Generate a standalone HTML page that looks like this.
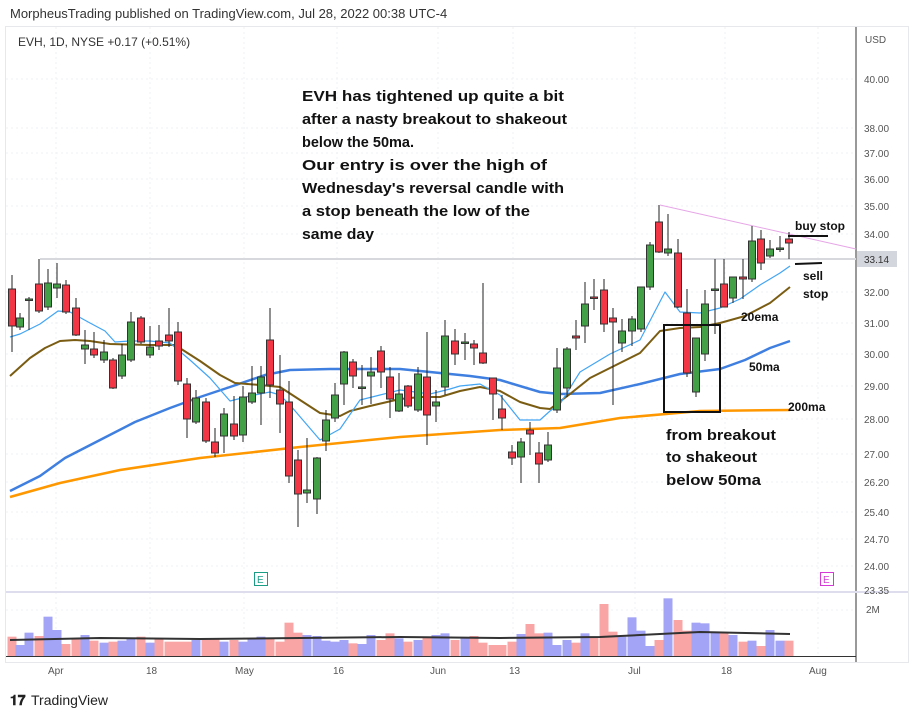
<!DOCTYPE html>
<html><head><meta charset="utf-8"><style>
html,body{margin:0;padding:0;background:#fff;width:919px;height:717px;overflow:hidden}
svg{display:block}
text{font-family:"Liberation Sans",sans-serif}
</style></head><body>
<svg id="s" width="919" height="717" xmlns="http://www.w3.org/2000/svg">
<rect x="0" y="0" width="919" height="717" fill="#fff"/>
<text x="10" y="18" font-size="13" fill="#333">MorpheusTrading published on TradingView.com, Jul 28, 2022 00:38 UTC-4</text>
<rect x="5.5" y="26.5" width="903" height="636" fill="none" stroke="#e6e8ec"/>
<g id="grid" stroke="#eef0f3" stroke-dasharray="2,3"></g>
<line x1="856" y1="27" x2="856" y2="662" stroke="#333"/>
<line x1="6" y1="592" x2="908" y2="592" stroke="#dde" stroke-width="2"/>
<line x1="6" y1="656.5" x2="856" y2="656.5" stroke="#333"/>
<text x="18" y="46" font-size="12" fill="#333">EVH, 1D, NYSE  <tspan fill="#333">+0.17 (+0.51%)</tspan></text>
<g id="vol"></g>
<line x1="40" y1="259" x2="856" y2="259" stroke="#d6d8de" stroke-width="2"/>
<line x1="660" y1="205" x2="856" y2="249" stroke="#e6a6e6" stroke-width="1"/>
<g id="ma" fill="none"></g>
<g id="cand"></g>
<rect x="664" y="325" width="56" height="87" fill="none" stroke="#111" stroke-width="2"/>
<line x1="788" y1="236" x2="828" y2="236" stroke="#111" stroke-width="2"/>
<line x1="795" y1="264" x2="822" y2="263" stroke="#111" stroke-width="2"/>
<g font-size="15" font-weight="bold" fill="#111">
<text x="302" y="101" textLength="262" lengthAdjust="spacingAndGlyphs">EVH has tightened up quite a bit</text>
<text x="302" y="124" textLength="265" lengthAdjust="spacingAndGlyphs">after a nasty breakout to shakeout</text>
<text x="302" y="147" textLength="112" lengthAdjust="spacingAndGlyphs">below the 50ma.</text>
<text x="302" y="170" textLength="245" lengthAdjust="spacingAndGlyphs">Our entry is over the high of</text>
<text x="302" y="193" textLength="262" lengthAdjust="spacingAndGlyphs">Wednesday's reversal candle with</text>
<text x="302" y="216" textLength="228" lengthAdjust="spacingAndGlyphs">a stop beneath the low of the</text>
<text x="302" y="239" textLength="72" lengthAdjust="spacingAndGlyphs">same day</text>
<text x="666" y="440" textLength="110" lengthAdjust="spacingAndGlyphs">from breakout</text>
<text x="666" y="462" textLength="91" lengthAdjust="spacingAndGlyphs">to shakeout</text>
<text x="666" y="485" textLength="95" lengthAdjust="spacingAndGlyphs">below 50ma</text>
</g>
<g font-size="12" font-weight="bold" fill="#111">
<text x="795" y="230">buy stop</text>
<text x="803" y="280">sell</text>
<text x="803" y="298">stop</text>
<text x="741" y="321">20ema</text>
<text x="749" y="371">50ma</text>
<text x="788" y="411">200ma</text>
</g>
<g font-size="10" fill="#555">
<text x="865" y="43">USD</text>
<text x="864" y="83">40.00</text><text x="864" y="132">38.00</text><text x="864" y="157">37.00</text>
<text x="864" y="183">36.00</text><text x="864" y="210">35.00</text><text x="864" y="238">34.00</text>
<text x="864" y="296">32.00</text><text x="864" y="327">31.00</text><text x="864" y="358">30.00</text>
<text x="864" y="390">29.00</text><text x="864" y="423">28.00</text><text x="864" y="458">27.00</text>
<text x="864" y="486">26.20</text><text x="864" y="516">25.40</text><text x="864" y="543">24.70</text>
<text x="864" y="570">24.00</text><text x="864" y="594">23.35</text>
<text x="866" y="613">2M</text>
<text x="48" y="674">Apr</text><text x="146" y="674">18</text><text x="235" y="674">May</text>
<text x="333" y="674">16</text><text x="430" y="674">Jun</text><text x="509" y="674">13</text>
<text x="628" y="674">Jul</text><text x="721" y="674">18</text><text x="809" y="674">Aug</text>
</g>
<rect x="857" y="251" width="40" height="16" fill="#d4d6dd"/>
<text x="864" y="263" font-size="10" fill="#333">33.14</text>
<rect x="254.5" y="572.5" width="13" height="13" fill="none" stroke="#1b9c85"/><text x="257" y="583" font-size="10" fill="#1b9c85">E</text>
<rect x="820.5" y="572.5" width="13" height="13" fill="none" stroke="#d63ad6"/><text x="823" y="583" font-size="10" fill="#d63ad6">E</text>
<text x="10" y="705" font-size="14" font-weight="bold" fill="#222">𝟏𝟕</text>
<text x="31" y="705" font-size="14" fill="#222">TradingView</text>
</svg>
<script>
var NS="http://www.w3.org/2000/svg";
function el(p,t,a){var e=document.createElementNS(NS,t);for(var k in a)e.setAttribute(k,a[k]);document.getElementById(p).appendChild(e);return e;}
[79,128,153,179,206,234,292,323,354,386,419,454,482,512,539,566].forEach(function(y){el("grid","line",{x1:6,x2:856,y1:y,y2:y});});
[56,150,244,337,438,513,635,725,818].forEach(function(x){el("grid","line",{x1:x,x2:x,y1:27,y2:656});});
el("grid","line",{x1:6,x2:856,y1:610,y2:610});
var C=[[12,289,326,275,352,0],[20,318,327,313,330,1],[29,299,300,297,330,1],[39,284,311,259,313,0],[48,283,307,269,310,1],[57,284,288,263,298,1],[66,285,312,280,314,0],[76,308,335,298,336,0],[85,345,349,330,364,1],[94,349,355,332,358,0],[104,352,360,340,363,1],[113,360,388,358,389,0],[122,355,376,344,379,1],[131,322,360,312,362,1],[141,318,342,316,344,0],[150,347,355,326,358,1],[159,341,346,325,350,0],[169,335,341,308,347,0],[178,332,381,322,385,0],[187,384,419,378,438,0],[196,398,422,390,424,1],[206,402,441,398,443,0],[215,442,453,428,457,0],[224,414,436,408,453,1],[234,424,436,396,440,0],[243,397,435,386,442,1],[252,393,402,366,404,1],[261,377,393,366,425,1],[270,340,385,308,398,0],[280,390,404,355,433,0],[289,402,476,381,483,0],[298,460,494,450,527,0],[307,490,493,438,503,1],[317,458,499,457,514,1],[326,420,441,410,451,1],[335,395,418,383,422,1],[344,352,384,351,405,1],[353,362,376,359,388,0],[362,387,388,365,405,1],[371,372,376,357,404,1],[381,351,372,346,388,0],[390,377,399,367,418,0],[399,394,411,373,412,1],[408,386,406,385,408,0],[418,374,410,367,412,1],[427,377,415,332,445,0],[436,402,406,390,422,1],[445,336,387,320,395,1],[455,341,354,329,365,0],[465,342,343,333,360,1],[474,344,348,340,365,0],[483,353,363,283,364,0],[493,378,394,378,420,0],[502,409,418,395,430,0],[512,452,458,445,465,0],[521,442,457,438,483,1],[530,430,434,422,455,0],[539,453,464,442,483,0],[548,445,460,432,462,1],[557,368,410,348,413,1],[567,349,388,347,397,1],[576,336,338,320,350,0],[585,304,326,282,343,1],[594,297,298,279,310,0],[604,290,324,279,332,0],[613,318,322,308,405,0],[622,331,343,319,352,1],[632,319,331,316,346,1],[641,287,329,287,332,1],[650,245,287,242,290,1],[659,222,252,205,253,0],[668,249,253,214,256,1],[678,253,307,239,308,0],[687,313,373,289,377,0],[696,338,392,338,397,1],[705,304,354,290,361,1],[715,289,290,259,334,1],[724,284,307,259,307,0],[733,277,298,277,303,1],[743,277,279,259,299,0],[752,241,279,226,282,1],[761,239,263,230,270,0],[770,249,256,240,258,1],[780,248,249,236,252,1],[789,239,243,232,259,0]];
C.forEach(function(c){var col=c[5]?"#43a047":"#f23645";
el("cand","line",{x1:c[0],x2:c[0],y1:c[3],y2:c[4],stroke:"#222","stroke-width":1});
el("cand","rect",{x:c[0]-3.5,y:c[1],width:7,height:Math.max(1.5,c[2]-c[1]),fill:col,stroke:"#333","stroke-width":1});});
var VT=[140,165,128,138,80,120,162,145,135,152,158,155,152,145,140,158,145,155,155,155,150,148,145,155,150,155,145,140,145,155,98,128,135,138,152,155,150,160,162,135,150,130,145,155,150,140,135,130,150,145,138,158,165,165,155,132,102,130,128,165,150,158,130,140,42,125,140,82,122,168,150,25,90,122,98,100,125,130,135,155,152,168,120,152,152,152];
C.forEach(function(c,i){var t=590+VT[Math.min(i,VT.length-1)]/3;
el("vol","rect",{x:c[0]-4.5,y:t,width:9,height:656-t,fill:c[5]?"#a3a4f6":"#f9a5a5"});});
function pl(pts,col,w){el("ma","polyline",{points:pts.map(function(p){return p.join(",")}).join(" "),stroke:col,"stroke-width":w,"stroke-linejoin":"round"});}
pl([[10,640],[100,638],[200,639],[300,638],[400,637],[500,638],[600,637],[660,634],[700,632],[790,634]],"#333",2);
pl([[10,497],[60,483],[120,470],[200,458],[300,447],[400,437],[500,430],[560,428],[620,418],[700,411],[790,410]],"#ff9800",2.5);
pl([[10,491],[40,476],[65,458],[100,440],[135,422],[170,408],[200,397],[230,387],[265,375],[290,370],[330,369],[400,369],[440,373],[470,376],[500,380],[540,392],[560,394],[600,393],[640,384],[680,374],[720,369],[745,360],[770,348],[790,341]],"#3f7fe0",2.5);
pl([[10,376],[30,358],[45,348],[60,341],[75,340],[90,341],[110,344],[150,345],[175,345],[200,361],[220,375],[235,383],[260,385],[280,387],[300,400],[320,413],[340,416],[350,411],[370,406],[400,399],[420,397],[440,397],[460,391],[480,387],[500,391],[520,402],[540,408],[550,409],[570,394],[590,378],[610,368],[640,353],[660,331],[680,328],[700,327],[720,323],[745,316],[770,303],[790,287]],"#7a5c12",2);
pl([[10,337],[20,334],[40,324],[58,311],[70,312],[90,323],[105,331],[115,342],[130,341],[150,341],[170,343],[190,360],[210,378],[230,401],[250,396],[270,392],[280,395],[290,405],[320,440],[340,429],[360,400],[380,395],[400,390],[430,394],[450,389],[460,386],[480,384],[500,395],[520,420],[540,420],[550,411],[560,404],[580,372],[610,354],[640,340],[665,292],[680,312],[700,313],[720,308],[740,299],[760,285],[780,273],[790,266]],"#42a5f5",1.2);
</script>
</body></html>
